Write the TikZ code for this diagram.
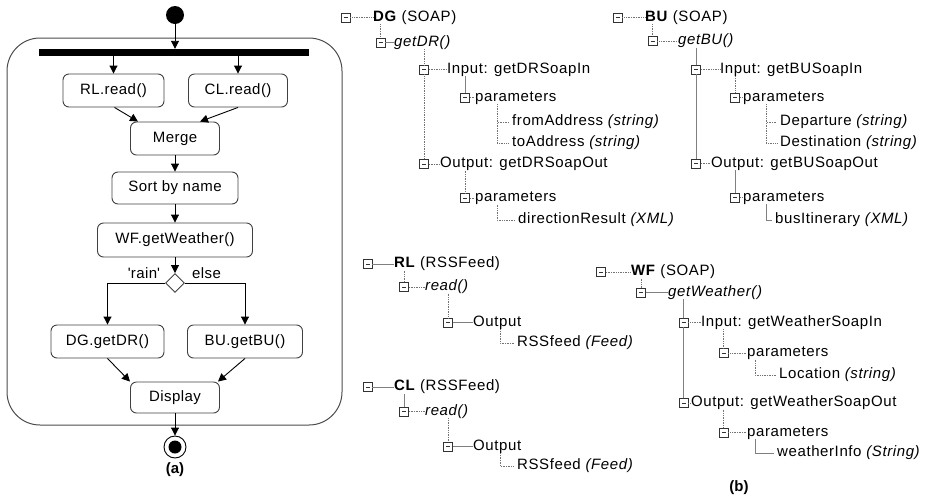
\documentclass[tikz,border=0pt]{standalone}
\usepackage{fontspec}
\setmainfont{Liberation Sans}
\newfontfamily\treefont[LetterSpace=4]{Liberation Sans}
\newfontfamily\actfont[LetterSpace=3]{Liberation Sans}
\usetikzlibrary{arrows.meta,shapes.geometric}
\begin{document}
\begin{tikzpicture}[x=1pt,y=-1pt,
  act/.style={draw=black!75, rounded corners=6pt, line width=0.9pt, minimum height=33pt, font=\actfont\fontsize{15}{17}\selectfont, inner sep=0pt},
  flow/.style={-{Triangle[length=8pt,width=8pt]}, line width=0.9pt},
  tb/.style={draw=black!80, fill=white, line width=0.8pt, minimum size=9pt, inner sep=0pt,
    path picture={\draw[line width=0.9pt] ([xshift=-2pt]path picture bounding box.center) -- ([xshift=2pt]path picture bounding box.center);}},
  tl/.style={anchor=west, inner sep=0pt, text height=10pt, text depth=3pt, font=\treefont\fontsize{15}{17}\selectfont},
  dl/.style={densely dotted, black!55, line width=0.7pt},
  sl/.style={black!50, line width=0.7pt},
  lbl/.style={font=\actfont\fontsize{15}{17}\selectfont, inner sep=0pt},
]
\useasboundingbox (0,0) rectangle (927,499);

% ---------------- (a) activity diagram ----------------
\node[circle, fill=black, minimum size=18pt, inner sep=0pt] (init) at (175,15) {};
\node[draw=black!70, line width=1pt, rounded corners=33pt, minimum width=335pt, minimum height=387pt, inner sep=0pt] (frame) at (174.5,231.5) {};
\node[fill=black, minimum width=270pt, minimum height=7pt, inner sep=0pt] (bar) at (174,52.5) {};
\node[act, minimum width=101pt] (RL) at (113.5,90.5) {RL.read()};
\node[act, minimum width=99pt] (CL) at (238,90.5) {CL.read()};
\node[act, minimum width=89pt] (Merge) at (175,138.5) {Merge};
\node[act, minimum width=126pt, minimum height=32pt] (Sort) at (175,188) {Sort by name};
\node[act, minimum width=155pt, minimum height=34pt] (WF) at (175,240) {WF.getWeather()};
\node[diamond, draw=black!75, line width=0.9pt, minimum size=19pt, inner sep=0pt] (dec) at (175,283) {};
\node[lbl] (rain) at (144,273) {\textquotesingle rain\textquotesingle};
\node[lbl] (else) at (206.5,273) {else};
\node[act, minimum width=113pt] (DG) at (107.5,341.5) {DG.getDR()};
\node[act, minimum width=115pt] (BU) at (245,341.5) {BU.getBU()};
\node[act, minimum width=89pt, minimum height=31pt] (Display) at (175,397.5) {Display};
\node[circle, draw=black, line width=0.9pt, fill=white, minimum size=22pt, inner sep=0pt] (final) at (175,447) {};
\node[circle, fill=black, minimum size=13pt, inner sep=0pt] (finalin) at (final) {};
\node[lbl, font=\bfseries\fontsize{15}{17}\selectfont] (la) at (175,470) {(a)};

\draw[flow] (init.south) -- (init.south |- bar.north);
\draw[flow] (RL.north |- bar.south) -- (RL.north);
\draw[flow] (CL.north |- bar.south) -- (CL.north);
\draw[flow] ([xshift=1pt]RL.south) -- ([xshift=-37pt]Merge.north);
\draw[flow] (CL.south) -- ([xshift=25pt]Merge.north);
\draw[flow] (Merge) -- (Sort);
\draw[flow] (Sort) -- (WF);
\draw[flow] (WF) -- (dec);
\draw[flow] (dec.west) -| (DG.north);
\draw[flow] (dec.east) -| (BU.north);
\draw[flow] (DG.south) -- ([xshift=-45pt]Display.north);
\draw[flow] (BU.south) -- ([xshift=43pt]Display.north);
\draw[flow] (Display) -- (final);

% ---------------- (b) DG tree ----------------
\node[tb] (dg0) at (345.5,17.5) {};
\node[tl] (dgl0) at (373,17.5) {\textbf{DG} (SOAP)};
\node[tb] (dg1) at (380.5,42.5) {};
\node[tl] (dgl1) at (394,42.5) {\itshape getDR()};
\node[tb] (dg2) at (424,69.5) {};
\node[tl] (dgl2) at (447,69.5) {Input: getDRSoapIn};
\node[tb] (dg3) at (465,97.5) {};
\node[tl] (dgl3) at (475,97.5) {parameters};
\node[tl] (dgl3a) at (512,122) {fromAddress \textit{(string)}};
\node[tl] (dgl3b) at (512,143) {toAddress \textit{(string)}};
\node[tb] (dg4) at (424,164) {};
\node[tl] (dgl4) at (440,164) {Output: getDRSoapOut};
\node[tb] (dg5) at (465,198) {};
\node[tl] (dgl5) at (475,198) {parameters};
\node[tl] (dgl5a) at (518,220) {directionResult \textit{(XML)}};

\draw[dl] (dg0) -- (dgl0);
\draw[dl] (dg1.north |- dgl0.south) -- (dg1.north);
\draw[sl] (dg1) -- (dgl1);
\draw[dl] (dg2.north |- dgl1.south) -- (dg2.north);
\draw[dl] (dg2.south) -- (dg4.north);
\draw[dl] (dg2) -- (dgl2);
\draw[sl] (dg3.north |- dgl2.south) -- (dg3.north);
\draw[dl] (dg3) -- (dgl3);
\coordinate (dgv1) at ([xshift=22pt]dgl3.south west);
\draw[dl] (dgv1) |- ([xshift=-3pt]dgl3a.west);
\draw[dl] (dgv1) |- ([xshift=-3pt]dgl3b.west);
\draw[dl] (dg4) -- (dgl4);
\draw[dl] (dg5.north |- dgl4.south) -- (dg5.north);
\draw[dl] (dg5) -- (dgl5);
\coordinate (dgv2) at ([xshift=22pt]dgl5.south west);
\draw[dl] (dgv2) |- ([xshift=-3pt]dgl5a.west);

% ---------------- BU tree ----------------
\node[tb] (bu0) at (617.5,17.5) {};
\node[tl] (bul0) at (645,17.5) {\textbf{BU} (SOAP)};
\node[tb] (bu1) at (652.5,41) {};
\node[tl] (bul1) at (678,41) {\itshape getBU()};
\node[tb] (bu2) at (696,69.5) {};
\node[tl] (bul2) at (720,69.5) {Input: getBUSoapIn};
\node[tb] (bu3) at (735,97.5) {};
\node[tl] (bul3) at (743,97.5) {parameters};
\node[tl] (bul3a) at (780,122) {Departure \textit{(string)}};
\node[tl] (bul3b) at (780,143) {Destination \textit{(string)}};
\node[tb] (bu4) at (696,163.5) {};
\node[tl] (bul4) at (711,163.5) {Output: getBUSoapOut};
\node[tb] (bu5) at (735,197.5) {};
\node[tl] (bul5) at (743,197.5) {parameters};
\node[tl] (bul5a) at (775,220) {busItinerary \textit{(XML)}};

\draw[dl] (bu0) -- (bul0);
\draw[dl] (bu1.north |- bul0.south) -- (bu1.north);
\draw[dl] (bu1) -- (bul1);
\draw[sl] (bu2.north |- bul1.south) -- (bu2.north);
\draw[sl] (bu2.south) -- (bu4.north);
\draw[dl] (bu2) -- (bul2);
\draw[dl] (bu3.north |- bul2.south) -- (bu3.north);
\draw[dl] (bu3) -- (bul3);
\coordinate (buv1) at ([xshift=23pt]bul3.south west);
\draw[dl] (buv1) |- ([xshift=-3pt]bul3a.west);
\draw[dl] (buv1) |- ([xshift=-3pt]bul3b.west);
\draw[dl] (bu4) -- (bul4);
\draw[sl] (bu5.north |- bul4.south) -- (bu5.north);
\draw[dl] (bu5) -- (bul5);
\coordinate (buv2) at ([xshift=23pt]bul5.south west);
\draw[sl] (buv2) |- ([xshift=-3pt]bul5a.west);

% ---------------- RL tree ----------------
\node[tb] (rl0) at (367.5,264) {};
\node[tl] (rll0) at (394,264) {\textbf{RL} (RSSFeed)};
\node[tb] (rl1) at (404,287) {};
\node[tl] (rll1) at (425,287) {\itshape read()};
\node[tb] (rl2) at (448,322.5) {};
\node[tl] (rll2) at (473,322.5) {Output};
\node[tl] (rll2a) at (517,343) {RSSfeed \textit{(Feed)}};
\draw[sl] (rl0) -- (rll0);
\draw[dl] (rl1.north |- rll0.south) -- (rl1.north);
\draw[dl] (rl1) -- (rll1);
\draw[dl] (rl2.north |- rll1.south) -- (rl2.north);
\draw[sl] (rl2) -- (rll2);
\coordinate (rlv) at ([xshift=27pt]rll2.south west);
\draw[dl] (rlv) |- ([xshift=-3pt]rll2a.west);

% ---------------- CL tree ----------------
\node[tb] (cl0) at (367.5,387) {};
\node[tl] (cll0) at (394,387) {\textbf{CL} (RSSFeed)};
\node[tb] (cl1) at (404,411.5) {};
\node[tl] (cll1) at (425,411.5) {\itshape read()};
\node[tb] (cl2) at (448,446.5) {};
\node[tl] (cll2) at (473,446.5) {Output};
\node[tl] (cll2a) at (517,466) {RSSfeed \textit{(Feed)}};
\draw[sl] (cl0) -- (cll0);
\draw[sl] (cl1.north |- cll0.south) -- (cl1.north);
\draw[dl] (cl1) -- (cll1);
\draw[dl] (cl2.north |- cll1.south) -- (cl2.north);
\draw[sl] (cl2) -- (cll2);
\coordinate (clv) at ([xshift=27pt]cll2.south west);
\draw[dl] (clv) |- ([xshift=-3pt]cll2a.west);

% ---------------- WF tree ----------------
\node[tb] (wf0) at (601,272) {};
\node[tl] (wfl0) at (631,272) {\textbf{WF} (SOAP)};
\node[tb] (wf1) at (641,292.5) {};
\node[tl] (wfl1) at (668,292.5) {\itshape getWeather()};
\node[tb] (wf2) at (683.5,322.5) {};
\node[tl] (wfl2) at (701,322.5) {Input: getWeatherSoapIn};
\node[tb] (wf3) at (723.5,353) {};
\node[tl] (wfl3) at (747,353) {parameters};
\node[tl] (wfl3a) at (779,375) {Location \textit{(string)}};
\node[tb] (wf4) at (683.5,403) {};
\node[tl] (wfl4) at (691,403) {Output: getWeatherSoapOut};
\node[tb] (wf5) at (723.5,432.5) {};
\node[tl] (wfl5) at (747,432.5) {parameters};
\node[tl] (wfl5a) at (777,453) {weatherInfo \textit{(String)}};
\draw[dl] (wf0) -- (wfl0);
\draw[dl] (wf1.north |- wfl0.south) -- (wf1.north);
\draw[sl] (wf1) -- (wfl1);
\draw[sl] (wf2.north |- wfl1.south) -- (wf2.north);
\draw[sl] (wf2.south) -- (wf4.north);
\draw[dl] (wf2) -- (wfl2);
\draw[dl] (wf3.north |- wfl2.south) -- (wf3.north);
\draw[dl] (wf3) -- (wfl3);
\coordinate (wfv1) at ([xshift=8pt]wfl3.south west);
\draw[dl] (wfv1) |- ([xshift=-3pt]wfl3a.west);
\draw[dl] (wf4) -- (wfl4);
\draw[dl] (wf5.north |- wfl4.south) -- (wf5.north);
\draw[dl] (wf5) -- (wfl5);
\coordinate (wfv2) at ([xshift=8pt]wfl5.south west);
\draw[sl] (wfv2) |- ([xshift=-3pt]wfl5a.west);

\node[lbl, font=\bfseries\fontsize{15}{17}\selectfont] (lb) at (739,488) {(b)};
\end{tikzpicture}
\end{document}
